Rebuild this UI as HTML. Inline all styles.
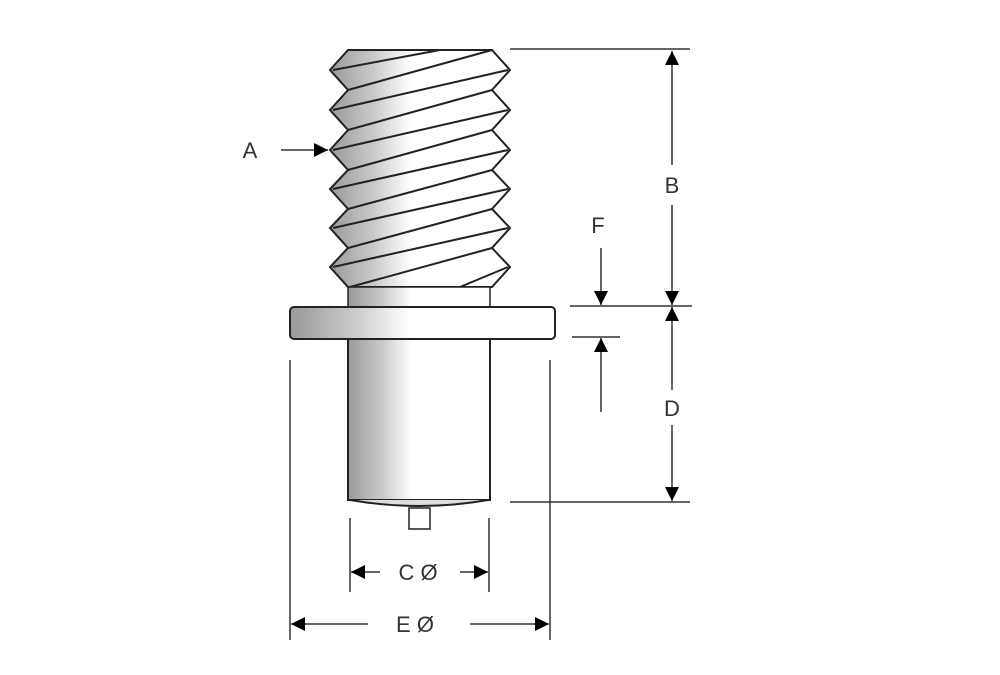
<!DOCTYPE html>
<html><head><style>body{margin:0;background:#fff}svg{display:block}</style></head><body>
<svg width="1000" height="675" viewBox="0 0 1000 675" xmlns="http://www.w3.org/2000/svg">
<defs>
<linearGradient id="g" x1="0" x2="1" y1="0" y2="0">
<stop offset="0" stop-color="#999"/><stop offset="0.25" stop-color="#ccc"/><stop offset="0.45" stop-color="#fff"/><stop offset="1" stop-color="#fff"/>
</linearGradient>
<marker id="a" viewBox="0 0 10 10" refX="10" refY="5" markerWidth="18" markerHeight="14" markerUnits="userSpaceOnUse" orient="auto"><path d="M0,0 L10,5 L0,10z" fill="#000"/></marker>
</defs>
<g stroke="#222" stroke-width="2" fill="none">
<path fill="url(#g)" d="M348,50 L492,50 L510,70 L492,90 L510,110 L492,130 L510,150 L492,170 L510,189 L492,209 L510,228 L492,248 L510,267 L492,287 L348,287 L330,267 L348,248 L330,228 L348,209 L330,189 L348,170 L330,150 L348,130 L330,110 L348,90 L330,70 Z"/>
<path d="M333,70 L440,50 M348,90 L492,50 M333,110 L508,70 M348,130 L492,90 M333,150 L508,110 M348,170 L492,130 M333,189 L508,150 M348,209 L492,170 M333,228 L508,189 M348,248 L492,209 M333,267 L508,228 M350,287 L492,248 M460,287 L508,267"/>
<rect x="348" y="287" width="142" height="20" fill="url(#g)" stroke-width="1.5"/>
<rect x="348" y="338" width="142" height="162" fill="url(#g)"/>
<rect x="290" y="307" width="265" height="32" rx="4" fill="url(#g)"/>
<path d="M350,500 Q420,512 488,500" fill="#ddd"/>
<rect x="409" y="508" width="21" height="21" stroke-width="1.5" fill="#fff"/>
</g>
<g stroke="#333" stroke-width="1.5" fill="none">
<path d="M510,49 H690 M570,306 H692 M572,337 H620 M510,502 H690"/>
<path d="M290,360 V640 M550,360 V640 M350,518 V592 M489,518 V592"/>
<path d="M672,165 V51" marker-end="url(#a)"/>
<path d="M672,205 V305" marker-end="url(#a)"/>
<path d="M672,390 V307" marker-end="url(#a)"/>
<path d="M672,425 V501" marker-end="url(#a)"/>
<path d="M601,248 V305" marker-end="url(#a)"/>
<path d="M601,412 V338" marker-end="url(#a)"/>
<path d="M281,150 H328" marker-end="url(#a)"/>
<path d="M380,572 H351" marker-end="url(#a)"/>
<path d="M460,572 H488" marker-end="url(#a)"/>
<path d="M368,624 H291" marker-end="url(#a)"/>
<path d="M470,624 H549" marker-end="url(#a)"/>
</g>
<g font-family="Liberation Sans, sans-serif" font-size="22" fill="#333" text-anchor="middle">
<text x="250" y="158">A</text>
<text x="672" y="193">B</text>
<text x="598" y="233">F</text>
<text x="672" y="416">D</text>
<text x="418" y="580">C Ø</text>
<text x="415" y="632">E Ø</text>
</g>
</svg>
</body></html>
